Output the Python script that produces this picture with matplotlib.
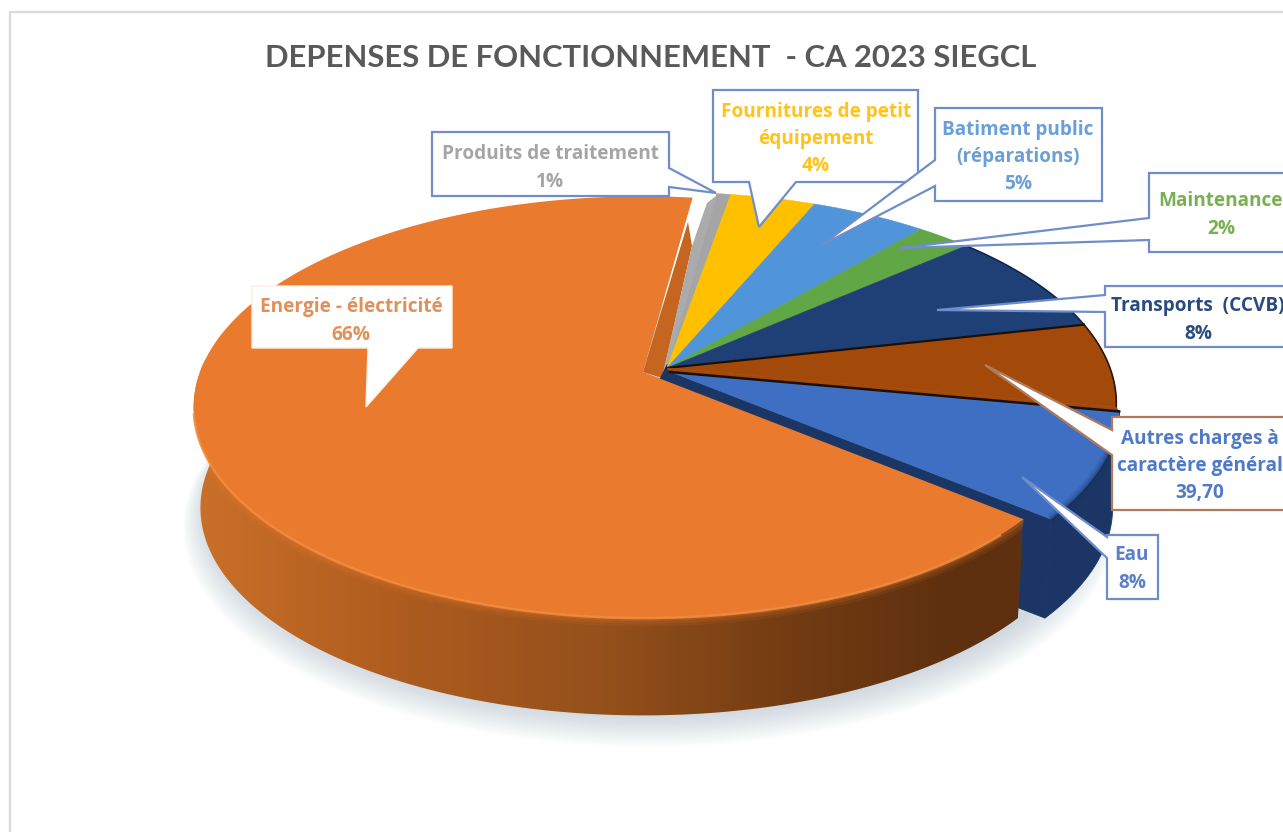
import numpy as np
import matplotlib
matplotlib.use("Agg")
import matplotlib.pyplot as plt
from matplotlib.colors import LinearSegmentedColormap
from matplotlib.patches import Polygon, Rectangle

# ---- data ----
categories = ["Energie - électricité", "Produits de traitement", "Fournitures de petit\néquipement",
              "Batiment public\n(réparations)", "Maintenance", "Transports  (CCVB)",
              "Autres charges à\ncaractère général", "Eau"]
shares = [66.0, 0.6, 3.6, 4.9, 2.3, 8.0, 6.5, 8.1]
value_labels = ["66%", "1%", "4%", "5%", "2%", "8%", "39,70", "8%"]
title = "DEPENSES DE FONCTIONNEMENT  - CA 2023 SIEGCL"

# ---- style ----
slice_colors = ["#E97A2E", "#A5A5A5", "#FFC000", "#5094D9", "#62A745", "#1F3F77", "#A34A0A", "#3F6FC3"]
apexes = [(643, 372), (667, 368), (667, 368), (667, 368), (667, 368), (667, 368), (667, 368), (670, 372)]
START_DEG = -39.9
RX, RY, K = 443.0, 205.0, 0.167
DEPTH, BOTTOM_SCALE = 101.0, 0.985

W, H = 1283, 832
fig = plt.figure(figsize=(W / 100, H / 100), dpi=100, facecolor="white")
ax = fig.add_axes([0, 0, 1, 1])
ax.set_xlim(0, W)
ax.set_ylim(H, 0)
ax.axis("off")


def rim(apex, deg, scale=1.0, dy=0.0):
    t = np.radians(deg)
    u, v = np.cos(t), np.sin(t)
    w = 1 + K * v
    return np.column_stack([apex[0] + scale * RX * u / w, apex[1] + dy - scale * RY * v / w])


def arc(a0, a1, n=160):
    return np.linspace(a0, a1, n)


# slice angles derived from the shares (clockwise)
bounds = START_DEG - np.concatenate([[0], np.cumsum(shares)]) * 3.6 * (100 / sum(shares))
spans = list(zip(bounds[:-1], bounds[1:]))

# frame
ax.add_patch(Rectangle((10, 12), W + 40, H + 40, fc="white", ec="#D9D9D9", lw=1.6, zorder=0))

# soft shadow beneath the pie
for i in range(14):
    pts = rim((apexes[0][0] + 6, apexes[0][1]), arc(0, 360, 240), BOTTOM_SCALE + 0.004 * i, DEPTH + 1.4 * i)
    ax.add_patch(Polygon(pts, closed=True, fc="#8FA3B5", ec="none", alpha=0.03, zorder=1))

# walls seen behind the centre
ax.add_patch(Polygon([(688, 222), (643, 372), (662, 378), (692, 246)], closed=True, fc="#C5651F", ec="none", zorder=1.7))
ax.add_patch(Polygon([(716, 196), (667, 368), (662, 378), (692, 246), (707, 203)], closed=True,
                     fc="#ABABAB", ec="none", zorder=1.8))
ax.add_patch(Polygon([(658, 382), (667, 364), (680, 372), (690, 395), (668, 392)], closed=True,
                     fc="#1B3565", ec="none", zorder=1.9))

# slices other than the energy one
z = 2
for i in range(1, 7):
    a0, a1 = spans[i]
    pts = np.vstack([[apexes[i]], rim(apexes[i], arc(a0, a1))])
    ax.add_patch(Polygon(pts, closed=True, fc=slice_colors[i], ec=slice_colors[i], lw=0.4, zorder=z))

# dark separators on the front slices
for i in (5, 6):
    a0, a1 = spans[i]
    ax.plot(*rim(apexes[i], arc(a0, a1)).T, color="#2A1605" if i == 6 else "#12264A", lw=1.2, zorder=z + 0.5)
e = rim(apexes[6], np.array([spans[6][0]]))[0]
ax.plot([apexes[6][0], e[0]], [apexes[6][1], e[1]], color="#1A1008", lw=1.6, zorder=z + 0.5)

# exploded water slice: wall then top
a0, a1 = spans[7]
top = rim(apexes[7], arc(a0, a1))
bot = rim(apexes[7], arc(a0, a1), BOTTOM_SCALE, DEPTH)
ap_b = (apexes[7][0], apexes[7][1] + DEPTH)
ax.add_patch(Polygon(np.vstack([[apexes[6]], [apexes[7]], top[[0]], rim(apexes[6], np.array([a0]))]), closed=True,
                     fc=slice_colors[6], ec=slice_colors[6], lw=0.4, zorder=2.7))
ax.add_patch(Polygon(np.vstack([top, bot[::-1]]), closed=True, fc="#1B3565", ec="#1B3565", lw=0.6, zorder=3))
ax.add_patch(Polygon(np.vstack([[apexes[7]], top[[-1]], bot[[-1]], [ap_b]]), closed=True,
                     fc="#1B3565", ec="#1B3565", lw=0.6, zorder=3))
ax.add_patch(Polygon(np.vstack([[apexes[7]], top]), closed=True, fc=slice_colors[7], ec="none", zorder=3.2))
for lw, al in ((8, 0.10), (5, 0.15), (2.5, 0.25)):
    ax.plot(*top[40:].T, color="#16305C", lw=lw, alpha=al, zorder=3.3, solid_capstyle="butt")
ax.plot([apexes[7][0], top[0, 0]], [apexes[7][1], top[0, 1]], color="#1A1008", lw=1.8, zorder=3.3)

# energy slice: wall with horizontal gradient, then top
a0, a1 = spans[0]
top = rim(apexes[0], arc(a0, a1, 400))
bot = rim(apexes[0], arc(a0, a1, 400), BOTTOM_SCALE, DEPTH)
wall = Polygon(np.vstack([top, bot[::-1]]), closed=True, fc="none", ec="none", zorder=4, transform=ax.transData)
ax.add_patch(wall)
cmap = LinearSegmentedColormap.from_list("wall", [(0.0, "#CB7029"), (0.25, "#AE5C1F"), (0.5, "#94501B"),
                                                  (0.72, "#733C13"), (0.92, "#5E300F"), (1.0, "#5E300F")])
im = ax.imshow(np.linspace(0, 1, 512)[None, :], cmap=cmap, extent=(190, 1022, 730, 360), aspect="auto",
               zorder=4, interpolation="bilinear")
im.set_clip_path(wall)
ax.set_xlim(0, W)
ax.set_ylim(H, 0)

# soft transition below the rim (clipped to the wall, the top covers the inner half)
front = rim(apexes[0], arc(a0, -178, 240))
for lw, al in ((12, 0.10), (8, 0.14), (4, 0.22)):
    ln, = ax.plot(*front.T, color="#E97A2E", lw=lw, alpha=al, zorder=4.2, solid_capstyle="butt")
    ln.set_clip_path(wall)

ax.add_patch(Polygon(np.vstack([[apexes[0]], top]), closed=True, fc=slice_colors[0], ec="none", zorder=4.5))
ax.plot(*front[8:-16].T, color="#F38C40", lw=1.8, alpha=0.85, zorder=4.6, solid_capstyle="butt")


# callouts: outline polygons (box with its pointer)
def callout(points, edge, lw=1.6, z=6):
    ax.add_patch(Polygon(points, closed=True, fc="white", ec=edge, lw=lw, zorder=z, joinstyle="miter"))


BLUE = "#6F8DCB"
callout([(252, 286), (452, 286), (452, 348), (418, 348), (366, 407), (368, 348), (252, 348)], "#FBEFE6", 1.0)
callout([(432, 132), (669, 132), (669, 168), (716, 193), (669, 187), (669, 196), (432, 196)], BLUE)
callout([(713, 90), (918, 90), (918, 182), (796, 182), (759, 227), (749, 182), (713, 182)], BLUE, z=6.1)
callout([(935, 108), (1102, 108), (1102, 201), (935, 201), (935, 186), (822, 245), (935, 160)], BLUE, z=6.2)
callout([(1149, 173), (1320, 173), (1320, 252), (1149, 252), (1149, 240), (900, 248), (1149, 218)], BLUE)
callout([(1105, 286), (1320, 286), (1320, 347), (1105, 347), (1105, 312), (937, 310), (1105, 295)], BLUE)
callout([(1112, 417), (1320, 417), (1320, 510), (1112, 510), (1112, 455), (985, 365), (1112, 430)], "#B07B5C")
callout([(1107, 535), (1158, 535), (1158, 599), (1107, 599), (1107, 558), (1022, 477), (1107, 537)], BLUE)

# label texts
text_colors = ["#E38F5A", "#A5A5A5", "#FFC31A", "#6A9FD8", "#78B052", "#2B4A80", "#4F7AC8", "#5A80C8"]
text_xy = [(351, 321), (550, 168), (816, 139), (1018, 157), (1221, 215), (1198, 320), (1200, 466), (1132, 569)]
for name, val, col, (tx, ty) in zip(categories, value_labels, text_colors, text_xy):
    ax.text(tx, ty, f"{name}\n{val}", ha="center", va="center", color=col, fontsize=13.7,
            family="Open Sans", fontweight="bold", linespacing=1.47, zorder=7)

ax.text(651, 58, title, ha="center", va="center", color="#595959", fontsize=22.3,
        family="Lato", fontweight="bold", zorder=7)

fig.savefig("out.png", dpi=100, facecolor="white")
